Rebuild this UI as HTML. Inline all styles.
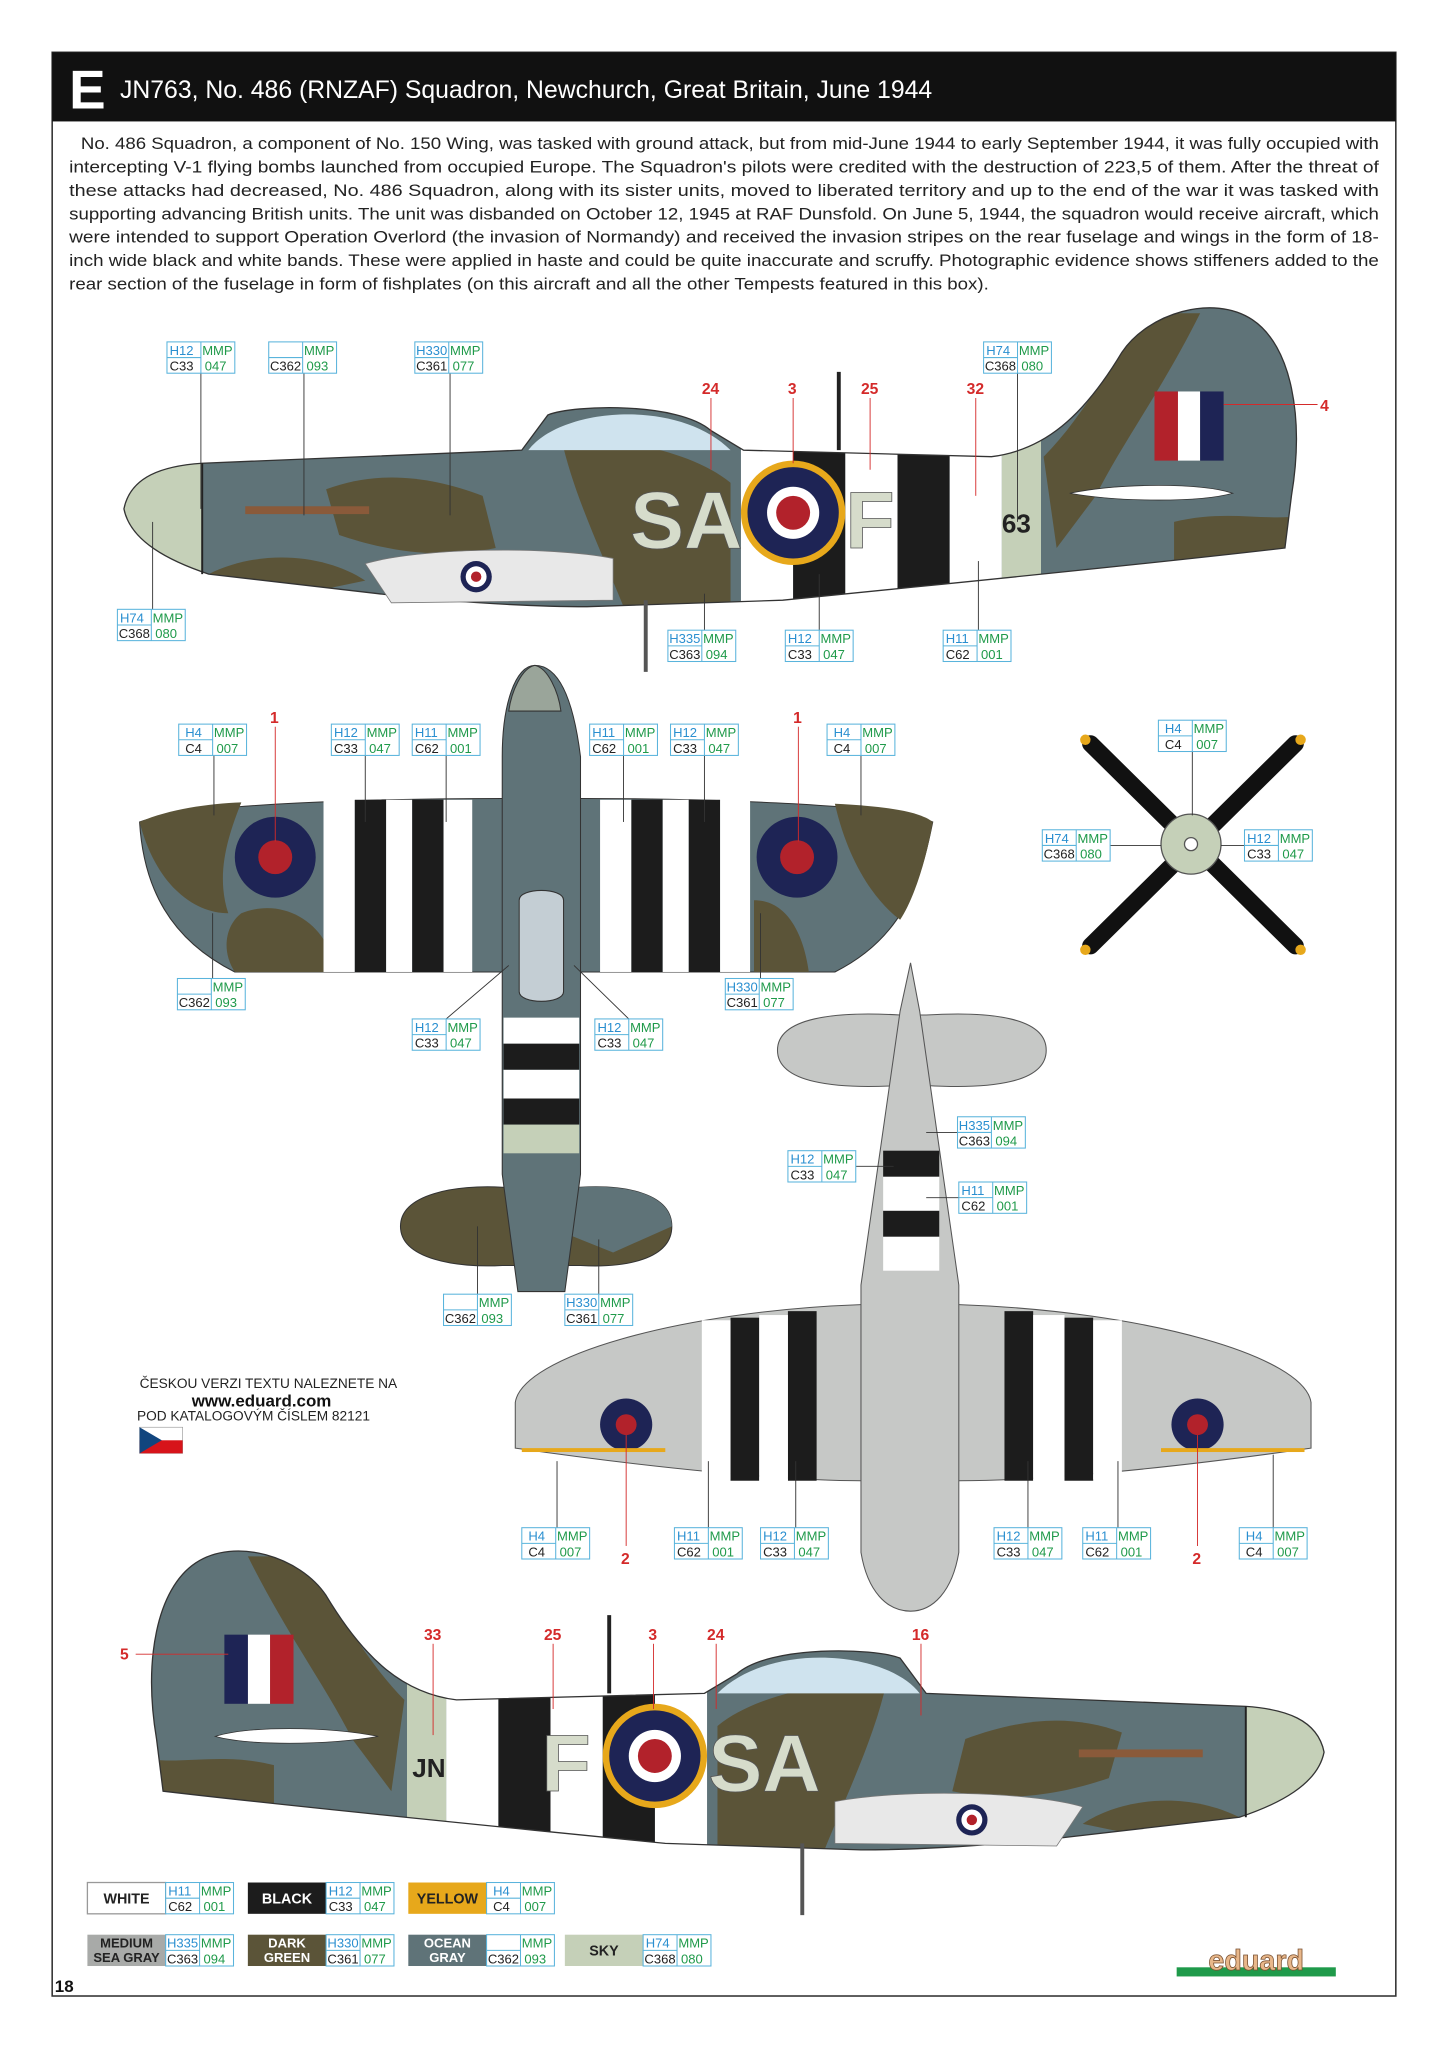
<!DOCTYPE html>
<html><head><meta charset="utf-8"><style>
html,body{margin:0;padding:0;background:#fff}
svg{display:block}
text{font-family:"Liberation Sans",sans-serif}
.h{fill:#2a8fd0;font-size:10px}.m{fill:#1f9a4a;font-size:10px}.c{fill:#222;font-size:10px}
.ld{stroke:#333;stroke-width:.7}
.rn{fill:#d42a2a;font-size:12px;font-weight:bold}
</style></head><body>
<svg width="1448" height="2047" viewBox="0 0 1110 1569" xmlns="http://www.w3.org/2000/svg">
<defs>
<g id="lab"><rect x="0" y="0" width="52" height="24" fill="#fff" stroke="#5ab4dc" stroke-width=".8"/><line x1="26" y1="0" x2="26" y2="24" stroke="#5ab4dc" stroke-width=".8"/><line x1="0" y1="12" x2="26" y2="12" stroke="#5ab4dc" stroke-width=".8"/></g>
<clipPath id="fus"><path d="M95,390 C100,365 125,357 155,355 L400,345 L420,318 C440,310 520,308 545,330 L570,345 L760,350 C800,345 830,320 860,270 C880,240 930,225 960,245 C990,265 1000,320 990,380 L985,420 C900,430 800,440 700,450 L600,460 L450,465 C400,465 330,460 290,455 L160,440 C130,430 100,415 95,390 Z"/></clipPath>
<g id="prof">
 <g clip-path="url(#fus)">
  <rect x="90" y="230" width="920" height="250" fill="#5f7378"/>
  <path d="M250,375 C290,360 330,365 370,380 L380,420 C330,430 290,420 260,410Z" fill="#5b5438"/>
  <path d="M160,440 C200,420 250,425 280,445 L160,470Z" fill="#5b5438"/>
  <path d="M430,335 C470,335 530,345 560,370 L560,470 L480,470 C460,420 440,380 430,335Z" fill="#5b5438"/>
  <path d="M800,350 C830,320 850,280 880,240 L920,240 C890,300 860,340 840,380 L810,420Z" fill="#5b5438"/>
  <path d="M900,400 C940,390 970,400 1000,395 L1000,430 L900,430Z" fill="#5b5438"/>
  <rect x="568" y="300" width="40" height="180" fill="#fff"/>
  <rect x="608" y="300" width="40" height="180" fill="#1c1c1c"/>
  <rect x="648" y="300" width="40" height="180" fill="#fff"/>
  <rect x="688" y="300" width="40" height="180" fill="#1c1c1c"/>
  <rect x="728" y="300" width="40" height="180" fill="#fff"/>
  <rect x="768" y="300" width="30" height="180" fill="#c5d0b8"/>
  <path d="M95,390 C100,365 125,357 155,355 L155,440 C125,432 100,415 95,390Z" fill="#c5d0b8"/>
  <path d="M405,345 C430,312 520,305 560,345Z" fill="#cfe3ee"/>
 </g>
 <path d="M95,390 C100,365 125,357 155,355 L400,345 L420,318 C440,310 520,308 545,330 L570,345 L760,350 C800,345 830,320 860,270 C880,240 930,225 960,245 C990,265 1000,320 990,380 L985,420 C900,430 800,440 700,450 L600,460 L450,465 C400,465 330,460 290,455 L160,440 C130,430 100,415 95,390 Z" fill="none" stroke="#333" stroke-width="1"/>
 <line x1="155" y1="355" x2="155" y2="440" stroke="#222" stroke-width="1.5"/>
 <path d="M280,432 C320,420 420,418 470,428 L470,460 L300,462Z" fill="#e8e8e8" stroke="#777" stroke-width=".6"/>
 <circle cx="365" cy="442" r="12" fill="#1e2455"/><circle cx="365" cy="442" r="8" fill="#fff"/><circle cx="365" cy="442" r="4" fill="#b2222b"/>
 <rect x="188" y="388" width="95" height="6" fill="#8a5a3a"/>
 <line x1="495" y1="460" x2="495" y2="515" stroke="#555" stroke-width="3"/>
 <line x1="643" y1="285" x2="643" y2="345" stroke="#222" stroke-width="3"/>
 <path d="M820,378 C860,370 920,370 945,378 C920,385 860,385 820,378Z" fill="#fff" stroke="#333" stroke-width=".6"/>
 <rect x="885" y="300" width="18" height="53" fill="#b2222b"/><rect x="903" y="300" width="17" height="53" fill="#fff"/><rect x="920" y="300" width="18" height="53" fill="#1e2455"/>
 <circle cx="608" cy="393" r="40" fill="#e7a81b"/><circle cx="608" cy="393" r="35" fill="#1e2455"/><circle cx="608" cy="393" r="20" fill="#fff"/><circle cx="608" cy="393" r="13" fill="#b2222b"/>
</g>
</defs>

<rect x="40" y="40" width="1030" height="1490" fill="#fff" stroke="#333" stroke-width="1.2"/>
<rect x="40" y="40" width="1030" height="53" fill="#111"/>
<text x="53" y="83" fill="#fff" font-size="42" font-weight="bold">E</text>
<text x="92" y="75" fill="#fff" font-size="19">JN763, No. 486 (RNZAF) Squadron, Newchurch, Great Britain, June 1944</text>
<g font-size="13" fill="#222">
<text x="62" y="114" textLength="995" lengthAdjust="spacingAndGlyphs">No. 486 Squadron, a component of No. 150 Wing, was tasked with ground attack, but from mid-June 1944 to early September 1944, it was fully occupied with</text>
<text x="53" y="132" textLength="1004" lengthAdjust="spacingAndGlyphs">intercepting V-1 flying bombs launched from occupied Europe. The Squadron's pilots were credited with the destruction of 223,5 of them. After the threat of</text>
<text x="53" y="150" textLength="1004" lengthAdjust="spacingAndGlyphs">these attacks had decreased, No. 486 Squadron, along with its sister units, moved to liberated territory and up to the end of the war it was tasked with</text>
<text x="53" y="168" textLength="1004" lengthAdjust="spacingAndGlyphs">supporting advancing British units. The unit was disbanded on October 12, 1945 at RAF Dunsfold. On June 5, 1944, the squadron would receive aircraft, which</text>
<text x="53" y="186" textLength="1004" lengthAdjust="spacingAndGlyphs">were intended to support Operation Overlord (the invasion of Normandy) and received the invasion stripes on the rear fuselage and wings in the form of 18-</text>
<text x="53" y="204" textLength="1004" lengthAdjust="spacingAndGlyphs">inch wide black and white bands. These were applied in haste and could be quite inaccurate and scruffy. Photographic evidence shows stiffeners added to the</text>
<text x="53" y="222" textLength="705" lengthAdjust="spacingAndGlyphs">rear section of the fuselage in form of fishplates (on this aircraft and all the other Tempests featured in this box).</text>
</g>

<use href="#prof"/>
<text x="483" y="420" font-size="62" font-weight="bold" fill="#d6dccb" stroke="#555" stroke-width=".6">SA</text>
<text x="648" y="420" font-size="62" font-weight="bold" fill="#d6dccb" stroke="#555" stroke-width=".6">F</text>
<text x="768" y="408" font-size="20" font-weight="bold" fill="#222">63</text>

<use href="#prof" transform="translate(1110,953) scale(-1,1)"/>
<text x="543" y="1373" font-size="62" font-weight="bold" fill="#d6dccb" stroke="#555" stroke-width=".6">SA</text>
<text x="415" y="1373" font-size="62" font-weight="bold" fill="#d6dccb" stroke="#555" stroke-width=".6">F</text>
<text x="316" y="1362" font-size="20" font-weight="bold" fill="#222">JN</text>

<g stroke="#333" stroke-width=".8">
<path d="M107,630 C150,615 300,612 385,612 L445,612 C520,612 680,615 715,630 C705,680 690,720 640,745 L180,745 C130,720 110,680 107,630 Z" fill="#5f7378"/>
<path d="M107,630 C130,620 160,616 185,615 C175,640 165,670 175,700 C150,700 120,680 107,630Z" fill="#5b5438" stroke="none"/>
<path d="M185,700 C210,690 235,700 248,720 L248,745 L180,745 C170,730 172,710 185,700Z" fill="#5b5438" stroke="none"/>
<path d="M640,616 C680,618 705,622 715,630 C710,660 700,690 690,705 C670,690 650,660 640,616Z" fill="#5b5438" stroke="none"/>
<path d="M578,690 C600,690 615,710 620,745 L578,745Z" fill="#5b5438" stroke="none"/>
<g stroke="none"><rect x="248" y="613" width="24" height="132" fill="#fff"/><rect x="272" y="613" width="24" height="132" fill="#1c1c1c"/><rect x="296" y="613" width="20" height="132" fill="#fff"/><rect x="316" y="613" width="24" height="132" fill="#1c1c1c"/><rect x="340" y="613" width="22" height="132" fill="#fff"/>
<rect x="460" y="613" width="24" height="132" fill="#fff"/><rect x="484" y="613" width="24" height="132" fill="#1c1c1c"/><rect x="508" y="613" width="20" height="132" fill="#fff"/><rect x="528" y="613" width="24" height="132" fill="#1c1c1c"/><rect x="552" y="613" width="23" height="132" fill="#fff"/></g>
<path d="M307,940 C307,915 350,908 385,910 L445,910 C480,908 515,915 515,940 C515,965 480,972 445,970 L385,970 C350,972 307,965 307,940Z" fill="#5b5438"/>
<path d="M410,910 L445,910 C480,908 515,915 515,940 L470,960 L420,940Z" fill="#5f7378" stroke="none"/>
<path d="M410,510 C430,510 440,540 445,580 L445,900 L433,990 L397,990 L385,900 L385,580 C385,540 395,510 410,510 Z" fill="#5f7378"/>
<path d="M410,510 C400,512 392,530 390,545 L430,545 C428,530 420,512 410,510Z" fill="#9aa59a"/>
<rect x="386" y="780" width="58" height="20" fill="#fff" stroke="none"/><rect x="386" y="800" width="58" height="20" fill="#1c1c1c" stroke="none"/><rect x="386" y="820" width="58" height="22" fill="#fff" stroke="none"/><rect x="386" y="842" width="58" height="20" fill="#1c1c1c" stroke="none"/><rect x="386" y="862" width="58" height="22" fill="#c5d0b8" stroke="none"/>
<path d="M398,690 C398,680 432,680 432,690 L432,760 C432,770 398,770 398,760Z" fill="#c4ced4"/>
</g>
<circle cx="211" cy="657" r="31" fill="#1e2455"/><circle cx="211" cy="657" r="13" fill="#b2222b"/>
<circle cx="611" cy="657" r="31" fill="#1e2455"/><circle cx="611" cy="657" r="13" fill="#b2222b"/>

<g stroke="#111" stroke-width="13" stroke-linecap="round"><line x1="836" y1="570" x2="993" y2="725"/><line x1="993" y1="570" x2="836" y2="725"/></g>
<g fill="#e7a81b"><circle cx="832" cy="567" r="4"/><circle cx="997" cy="567" r="4"/><circle cx="832" cy="728" r="4"/><circle cx="997" cy="728" r="4"/></g>
<circle cx="913" cy="647" r="23" fill="#c5d0b8" stroke="#555"/><circle cx="913" cy="647" r="5" fill="#fff" stroke="#555"/>

<g fill="#c6c8c6" stroke="#555" stroke-width=".8">
<path d="M395,1075 C400,1040 520,1005 660,1000 L735,1000 C880,1005 1000,1040 1005,1075 L1005,1110 C900,1125 800,1135 735,1135 L660,1135 C600,1135 500,1125 395,1110Z"/>
<path d="M596,805 C596,780 640,775 690,778 L710,778 C760,775 802,780 802,805 C802,830 760,835 710,832 L690,832 C640,835 596,830 596,805Z"/>
<path d="M698,738 L705,775 L735,985 L735,1190 C730,1220 715,1235 698,1235 C680,1235 665,1220 660,1190 L660,985 L690,775Z"/>
</g>
<g fill="#1c1c1c"><rect x="560" y="1010" width="22" height="125"/><rect x="604" y="1005" width="22" height="130"/><rect x="770" y="1005" width="22" height="130"/><rect x="816" y="1010" width="22" height="125"/>
<rect x="677" y="882" width="43" height="20"/><rect x="677" y="928" width="43" height="20"/></g>
<g fill="#fff"><rect x="538" y="1012" width="22" height="122"/><rect x="582" y="1008" width="22" height="127"/><rect x="792" y="1008" width="24" height="127"/><rect x="838" y="1012" width="22" height="122"/><rect x="677" y="902" width="43" height="26"/><rect x="677" y="948" width="43" height="26"/></g>
<circle cx="480" cy="1092" r="20" fill="#1e2455"/><circle cx="480" cy="1092" r="8" fill="#b2222b"/>
<circle cx="918" cy="1092" r="20" fill="#1e2455"/><circle cx="918" cy="1092" r="8" fill="#b2222b"/>
<g fill="#e7a81b"><rect x="400" y="1110" width="110" height="3"/><rect x="890" y="1110" width="110" height="3"/></g>

<g class="ld">
<line x1="154" y1="286" x2="154" y2="390"/><line x1="233" y1="286" x2="233" y2="395"/><line x1="345" y1="286" x2="345" y2="395"/><line x1="780" y1="286" x2="780" y2="400"/><line x1="117" y1="467" x2="117" y2="400"/><line x1="540" y1="483" x2="540" y2="455"/><line x1="628" y1="483" x2="628" y2="440"/><line x1="750" y1="483" x2="750" y2="430"/>
<line x1="164" y1="579" x2="164" y2="625"/><line x1="280" y1="579" x2="280" y2="630"/><line x1="342" y1="579" x2="342" y2="630"/><line x1="478" y1="579" x2="478" y2="630"/><line x1="540" y1="579" x2="540" y2="630"/><line x1="660" y1="579" x2="660" y2="625"/><line x1="163" y1="750" x2="163" y2="700"/><line x1="583" y1="750" x2="583" y2="700"/><line x1="342" y1="781" x2="390" y2="740"/><line x1="482" y1="781" x2="440" y2="740"/>
<line x1="914" y1="576" x2="914" y2="625"/><line x1="851" y1="648" x2="890" y2="648"/><line x1="954" y1="648" x2="936" y2="648"/>
<line x1="427" y1="1171" x2="427" y2="1120"/><line x1="543" y1="1171" x2="543" y2="1120"/><line x1="610" y1="1171" x2="610" y2="1120"/><line x1="788" y1="1171" x2="788" y2="1120"/><line x1="857" y1="1171" x2="857" y2="1120"/><line x1="976" y1="1171" x2="976" y2="1115"/>
<line x1="366" y1="992" x2="366" y2="940"/><line x1="459" y1="992" x2="459" y2="950"/><line x1="734" y1="868" x2="710" y2="868"/><line x1="656" y1="894" x2="685" y2="894"/><line x1="735" y1="918" x2="710" y2="918"/>
</g>
<g stroke="#d42a2a" stroke-width=".7"><line x1="545" y1="305" x2="545" y2="360"/><line x1="608" y1="305" x2="608" y2="355"/><line x1="667" y1="305" x2="667" y2="360"/><line x1="748" y1="305" x2="748" y2="380"/><line x1="938" y1="310" x2="1010" y2="310"/><line x1="211" y1="557" x2="211" y2="645"/><line x1="612" y1="557" x2="612" y2="645"/><line x1="480" y1="1100" x2="480" y2="1185"/><line x1="918" y1="1100" x2="918" y2="1185"/><line x1="104" y1="1268" x2="175" y2="1268"/><line x1="332" y1="1260" x2="332" y2="1330"/><line x1="424" y1="1260" x2="424" y2="1310"/><line x1="501" y1="1260" x2="501" y2="1310"/><line x1="549" y1="1260" x2="549" y2="1310"/><line x1="706" y1="1260" x2="706" y2="1315"/></g>
<g class="rn"><text x="538" y="302">24</text><text x="604" y="302">3</text><text x="660" y="302">25</text><text x="741" y="302">32</text><text x="1012" y="315">4</text><text x="207" y="554">1</text><text x="608" y="554">1</text><text x="476" y="1199">2</text><text x="914" y="1199">2</text><text x="92" y="1272">5</text><text x="325" y="1257">33</text><text x="417" y="1257">25</text><text x="497" y="1257">3</text><text x="542" y="1257">24</text><text x="699" y="1257">16</text></g>

<g>
<g transform="translate(128,262)"><use href="#lab"/><text class="h" x="2" y="10">H12</text><text class="m" x="27" y="10">MMP</text><text class="c" x="2" y="22">C33</text><text class="m" x="29" y="22">047</text></g>
<g transform="translate(206,262)"><use href="#lab"/><text class="m" x="27" y="10">MMP</text><text class="c" x="1" y="22">C362</text><text class="m" x="29" y="22">093</text></g>
<g transform="translate(318,262)"><use href="#lab"/><text class="h" x="1" y="10">H330</text><text class="m" x="27" y="10">MMP</text><text class="c" x="1" y="22">C361</text><text class="m" x="29" y="22">077</text></g>
<g transform="translate(754,262)"><use href="#lab"/><text class="h" x="2" y="10">H74</text><text class="m" x="27" y="10">MMP</text><text class="c" x="1" y="22">C368</text><text class="m" x="29" y="22">080</text></g>
<g transform="translate(90,467)"><use href="#lab"/><text class="h" x="2" y="10">H74</text><text class="m" x="27" y="10">MMP</text><text class="c" x="1" y="22">C368</text><text class="m" x="29" y="22">080</text></g>
<g transform="translate(512,483)"><use href="#lab"/><text class="h" x="1" y="10">H335</text><text class="m" x="27" y="10">MMP</text><text class="c" x="1" y="22">C363</text><text class="m" x="29" y="22">094</text></g>
<g transform="translate(602,483)"><use href="#lab"/><text class="h" x="2" y="10">H12</text><text class="m" x="27" y="10">MMP</text><text class="c" x="2" y="22">C33</text><text class="m" x="29" y="22">047</text></g>
<g transform="translate(723,483)"><use href="#lab"/><text class="h" x="2" y="10">H11</text><text class="m" x="27" y="10">MMP</text><text class="c" x="2" y="22">C62</text><text class="m" x="29" y="22">001</text></g>
<g transform="translate(137,555)"><use href="#lab"/><text class="h" x="5" y="10">H4</text><text class="m" x="27" y="10">MMP</text><text class="c" x="5" y="22">C4</text><text class="m" x="29" y="22">007</text></g>
<g transform="translate(254,555)"><use href="#lab"/><text class="h" x="2" y="10">H12</text><text class="m" x="27" y="10">MMP</text><text class="c" x="2" y="22">C33</text><text class="m" x="29" y="22">047</text></g>
<g transform="translate(316,555)"><use href="#lab"/><text class="h" x="2" y="10">H11</text><text class="m" x="27" y="10">MMP</text><text class="c" x="2" y="22">C62</text><text class="m" x="29" y="22">001</text></g>
<g transform="translate(452,555)"><use href="#lab"/><text class="h" x="2" y="10">H11</text><text class="m" x="27" y="10">MMP</text><text class="c" x="2" y="22">C62</text><text class="m" x="29" y="22">001</text></g>
<g transform="translate(514,555)"><use href="#lab"/><text class="h" x="2" y="10">H12</text><text class="m" x="27" y="10">MMP</text><text class="c" x="2" y="22">C33</text><text class="m" x="29" y="22">047</text></g>
<g transform="translate(634,555)"><use href="#lab"/><text class="h" x="5" y="10">H4</text><text class="m" x="27" y="10">MMP</text><text class="c" x="5" y="22">C4</text><text class="m" x="29" y="22">007</text></g>
<g transform="translate(136,750)"><use href="#lab"/><text class="m" x="27" y="10">MMP</text><text class="c" x="1" y="22">C362</text><text class="m" x="29" y="22">093</text></g>
<g transform="translate(556,750)"><use href="#lab"/><text class="h" x="1" y="10">H330</text><text class="m" x="27" y="10">MMP</text><text class="c" x="1" y="22">C361</text><text class="m" x="29" y="22">077</text></g>
<g transform="translate(316,781)"><use href="#lab"/><text class="h" x="2" y="10">H12</text><text class="m" x="27" y="10">MMP</text><text class="c" x="2" y="22">C33</text><text class="m" x="29" y="22">047</text></g>
<g transform="translate(456,781)"><use href="#lab"/><text class="h" x="2" y="10">H12</text><text class="m" x="27" y="10">MMP</text><text class="c" x="2" y="22">C33</text><text class="m" x="29" y="22">047</text></g>
<g transform="translate(340,992)"><use href="#lab"/><text class="m" x="27" y="10">MMP</text><text class="c" x="1" y="22">C362</text><text class="m" x="29" y="22">093</text></g>
<g transform="translate(433,992)"><use href="#lab"/><text class="h" x="1" y="10">H330</text><text class="m" x="27" y="10">MMP</text><text class="c" x="1" y="22">C361</text><text class="m" x="29" y="22">077</text></g>
<g transform="translate(888,552)"><use href="#lab"/><text class="h" x="5" y="10">H4</text><text class="m" x="27" y="10">MMP</text><text class="c" x="5" y="22">C4</text><text class="m" x="29" y="22">007</text></g>
<g transform="translate(799,636)"><use href="#lab"/><text class="h" x="2" y="10">H74</text><text class="m" x="27" y="10">MMP</text><text class="c" x="1" y="22">C368</text><text class="m" x="29" y="22">080</text></g>
<g transform="translate(954,636)"><use href="#lab"/><text class="h" x="2" y="10">H12</text><text class="m" x="27" y="10">MMP</text><text class="c" x="2" y="22">C33</text><text class="m" x="29" y="22">047</text></g>
<g transform="translate(734,856)"><use href="#lab"/><text class="h" x="1" y="10">H335</text><text class="m" x="27" y="10">MMP</text><text class="c" x="1" y="22">C363</text><text class="m" x="29" y="22">094</text></g>
<g transform="translate(604,882)"><use href="#lab"/><text class="h" x="2" y="10">H12</text><text class="m" x="27" y="10">MMP</text><text class="c" x="2" y="22">C33</text><text class="m" x="29" y="22">047</text></g>
<g transform="translate(735,906)"><use href="#lab"/><text class="h" x="2" y="10">H11</text><text class="m" x="27" y="10">MMP</text><text class="c" x="2" y="22">C62</text><text class="m" x="29" y="22">001</text></g>
<g transform="translate(400,1171)"><use href="#lab"/><text class="h" x="5" y="10">H4</text><text class="m" x="27" y="10">MMP</text><text class="c" x="5" y="22">C4</text><text class="m" x="29" y="22">007</text></g>
<g transform="translate(517,1171)"><use href="#lab"/><text class="h" x="2" y="10">H11</text><text class="m" x="27" y="10">MMP</text><text class="c" x="2" y="22">C62</text><text class="m" x="29" y="22">001</text></g>
<g transform="translate(583,1171)"><use href="#lab"/><text class="h" x="2" y="10">H12</text><text class="m" x="27" y="10">MMP</text><text class="c" x="2" y="22">C33</text><text class="m" x="29" y="22">047</text></g>
<g transform="translate(762,1171)"><use href="#lab"/><text class="h" x="2" y="10">H12</text><text class="m" x="27" y="10">MMP</text><text class="c" x="2" y="22">C33</text><text class="m" x="29" y="22">047</text></g>
<g transform="translate(830,1171)"><use href="#lab"/><text class="h" x="2" y="10">H11</text><text class="m" x="27" y="10">MMP</text><text class="c" x="2" y="22">C62</text><text class="m" x="29" y="22">001</text></g>
<g transform="translate(950,1171)"><use href="#lab"/><text class="h" x="5" y="10">H4</text><text class="m" x="27" y="10">MMP</text><text class="c" x="5" y="22">C4</text><text class="m" x="29" y="22">007</text></g>
</g>

<text x="107" y="1064" font-size="10.5" fill="#222">ČESKOU VERZI TEXTU NALEZNETE NA</text>
<text x="147" y="1078" font-size="13" font-weight="bold" fill="#111">www.eduard.com</text>
<text x="105" y="1089" font-size="10.5" fill="#222">POD KATALOGOVÝM ČÍSLEM 82121</text>
<rect x="107" y="1094" width="33" height="20" fill="#fff" stroke="#999" stroke-width=".5"/><rect x="107" y="1104" width="33" height="10" fill="#d7141a"/><path d="M107,1094 L124,1104 L107,1114Z" fill="#11457e"/>

<g font-size="11" font-weight="bold" text-anchor="middle">
<rect x="67" y="1443" width="60" height="24" fill="#fff" stroke="#999"/><text x="97" y="1459" fill="#222">WHITE</text>
<rect x="190" y="1443" width="60" height="24" fill="#1c1c1c"/><text x="220" y="1459" fill="#fff">BLACK</text>
<rect x="313" y="1443" width="60" height="24" fill="#e7a81b"/><text x="343" y="1459" fill="#222">YELLOW</text>
<rect x="67" y="1483" width="60" height="24" fill="#a8aaa8"/><text x="97" y="1493" fill="#222" font-size="10">MEDIUM</text><text x="97" y="1504" fill="#222" font-size="10">SEA GRAY</text>
<rect x="190" y="1483" width="60" height="24" fill="#5b5438"/><text x="220" y="1493" fill="#fff" font-size="10">DARK</text><text x="220" y="1504" fill="#fff" font-size="10">GREEN</text>
<rect x="313" y="1483" width="60" height="24" fill="#5f7378"/><text x="343" y="1493" fill="#fff" font-size="10">OCEAN</text><text x="343" y="1504" fill="#fff" font-size="10">GRAY</text>
<rect x="433" y="1483" width="60" height="24" fill="#c5d0b8"/><text x="463" y="1499" fill="#222">SKY</text>
</g>
<g>
<g transform="translate(127,1443)"><use href="#lab"/><text class="h" x="2" y="10">H11</text><text class="m" x="27" y="10">MMP</text><text class="c" x="2" y="22">C62</text><text class="m" x="29" y="22">001</text></g>
<g transform="translate(250,1443)"><use href="#lab"/><text class="h" x="2" y="10">H12</text><text class="m" x="27" y="10">MMP</text><text class="c" x="2" y="22">C33</text><text class="m" x="29" y="22">047</text></g>
<g transform="translate(373,1443)"><use href="#lab"/><text class="h" x="5" y="10">H4</text><text class="m" x="27" y="10">MMP</text><text class="c" x="5" y="22">C4</text><text class="m" x="29" y="22">007</text></g>
<g transform="translate(127,1483)"><use href="#lab"/><text class="h" x="1" y="10">H335</text><text class="m" x="27" y="10">MMP</text><text class="c" x="1" y="22">C363</text><text class="m" x="29" y="22">094</text></g>
<g transform="translate(250,1483)"><use href="#lab"/><text class="h" x="1" y="10">H330</text><text class="m" x="27" y="10">MMP</text><text class="c" x="1" y="22">C361</text><text class="m" x="29" y="22">077</text></g>
<g transform="translate(373,1483)"><use href="#lab"/><text class="m" x="27" y="10">MMP</text><text class="c" x="1" y="22">C362</text><text class="m" x="29" y="22">093</text></g>
<g transform="translate(493,1483)"><use href="#lab"/><text class="h" x="2" y="10">H74</text><text class="m" x="27" y="10">MMP</text><text class="c" x="1" y="22">C368</text><text class="m" x="29" y="22">080</text></g>
</g>
<rect x="902" y="1508" width="122" height="7" fill="#1f9a4a"/>
<text x="963" y="1510" text-anchor="middle" font-size="22" font-weight="bold" fill="#e8b78a" stroke="#7a5030" stroke-width=".6">eduard</text>
<text x="42" y="1527" font-size="13" font-weight="bold" fill="#111">18</text>
</svg>
</body></html>
